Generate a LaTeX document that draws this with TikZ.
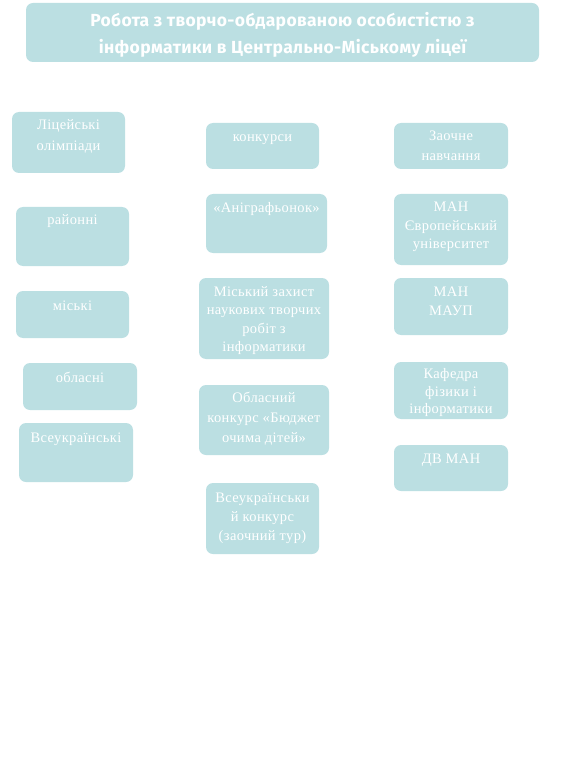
\documentclass[tikz,border=0pt]{standalone}
\usepackage{fontspec}
\setmainfont{Liberation Serif}[LetterSpace=2.5]
\newfontfamily\titlefont{Fira Sans}[LetterSpace=2]
\definecolor{boxfill}{HTML}{BBDFE2}
\begin{document}
\begin{tikzpicture}[x=1pt,y=-1pt,
  box/.style={fill=boxfill, draw=none, rounded corners=7pt, inner sep=0pt},
  lbl/.style={anchor=north, inner sep=0pt, align=center, text=white,
    font=\fontsize{14.5}{19}\selectfont},
  ttl/.style={anchor=center, inner sep=0pt, align=center, text=white,
    font=\titlefont\bfseries\fontsize{17.5}{27}\selectfont}]
\useasboundingbox (0,0) rectangle (570,759);
% title
\node[box, minimum width=513pt, minimum height=59pt] (title) at (282.5,32.5) {};
\node[ttl] (ttext) at (282.5,34.5) {Робота з творчо-обдарованою особистістю з\\інформатики в Центрально-Міському ліцеї};
% left column
\node[box, minimum width=113pt, minimum height=61pt] (lic) at (68.5,142.5) {};
\node[lbl, font=\fontsize{14.5}{21}\selectfont] (tlic) at (68.5,114.5) {\strut Ліцейські\\олімпіади};
\node[box, minimum width=113pt, minimum height=59pt] (rai) at (72.5,236.5) {};
\node[lbl] (trai) at (72.5,210.5) {\strut районні};
\node[box, minimum width=113pt, minimum height=47pt] (mis) at (72.5,314.5) {};
\node[lbl] (tmis) at (72.5,296.5) {\strut міські};
\node[box, minimum width=114pt, minimum height=47pt] (obl) at (80,386.5) {};
\node[lbl] (tobl) at (80,368.5) {\strut обласні};
\node[box, minimum width=114pt, minimum height=59pt] (vse) at (76,452.5) {};
\node[lbl] (tvse) at (76,428.5) {\strut Всеукраїнські};
% middle column
\node[box, minimum width=113pt, minimum height=46pt] (kon) at (262.5,146) {};
\node[lbl] (tkon) at (262.5,128.5) {\strut конкурси};
\node[box, minimum width=121pt, minimum height=59pt] (ani) at (266.5,223.5) {};
\node[lbl] (tani) at (266.5,199.5) {\strut «Аніграфьонок»};
\node[box, minimum width=130pt, minimum height=81pt] (mzah) at (264,318.5) {};
\node[lbl, font=\fontsize{14.5}{18.3}\selectfont] (tmzah) at (264,283.5) {\strut Міський захист\\наукових творчих\\робіт з\\інформатики};
\node[box, minimum width=130pt, minimum height=70pt] (oblk) at (264,420) {};
\node[lbl, font=\fontsize{14.5}{20}\selectfont] (toblk) at (264,388.5) {\strut Обласний\\конкурс «Бюджет\\очима дітей»};
\node[box, minimum width=113pt, minimum height=71pt] (vsek) at (262.5,518.5) {};
\node[lbl] (tvsek) at (262.5,488.5) {\strut Всеукраїнськи\\й конкурс\\(заочний тур)};
% right column
\node[box, minimum width=114pt, minimum height=46pt] (zao) at (451,146) {};
\node[lbl, font=\fontsize{14.5}{20}\selectfont] (tzao) at (451,126.5) {\strut Заочне\\навчання};
\node[box, minimum width=114pt, minimum height=71pt] (man1) at (451,229.5) {};
\node[lbl, font=\fontsize{14.5}{18.5}\selectfont] (tman1) at (451,198.5) {\strut МАН\\Європейський\\університет};
\node[box, minimum width=114pt, minimum height=57pt] (man2) at (451,306.5) {};
\node[lbl, font=\fontsize{14.5}{18.5}\selectfont] (tman2) at (451,283.5) {\strut МАН\\МАУП};
\node[box, minimum width=114pt, minimum height=57pt] (kaf) at (451,390.5) {};
\node[lbl, font=\fontsize{14.5}{17.5}\selectfont] (tkaf) at (451,366.5) {\strut Кафедра\\фізики і\\інформатики};
\node[box, minimum width=114pt, minimum height=46pt] (dv) at (451,468) {};
\node[lbl] (tdv) at (451,449.5) {\strut ДВ МАН};
\end{tikzpicture}
\end{document}
